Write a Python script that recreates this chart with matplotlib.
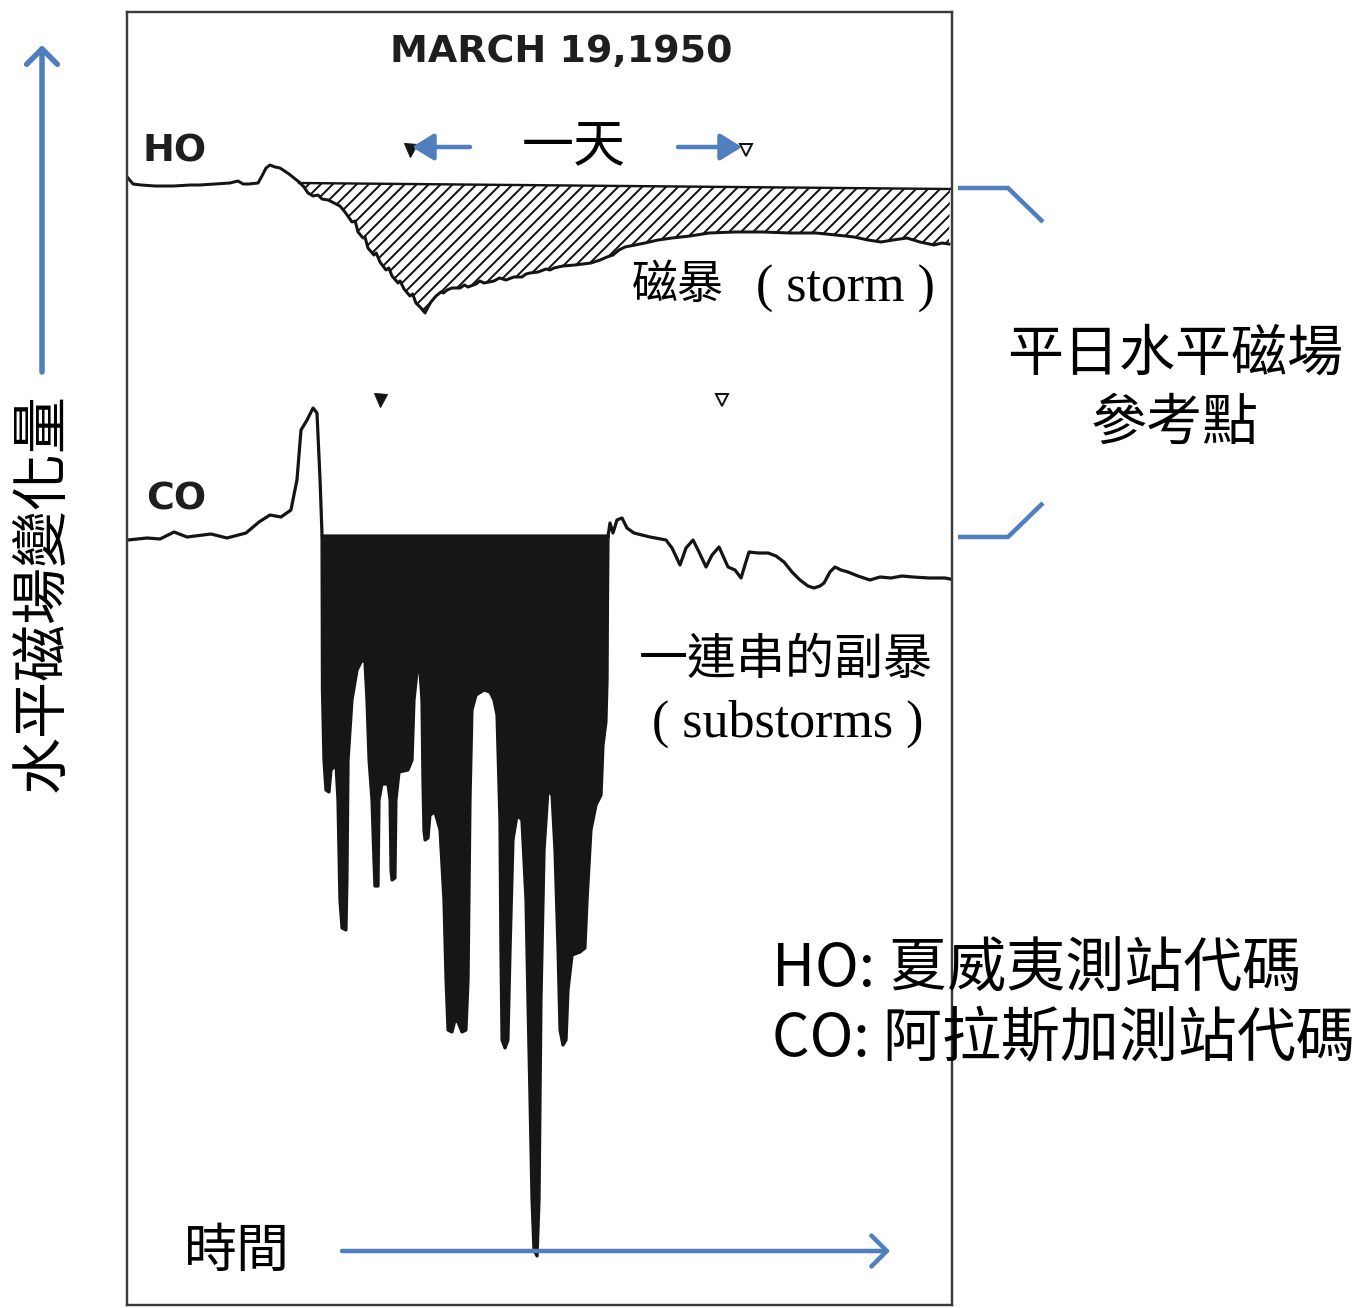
import numpy as np
import matplotlib.pyplot as plt
from matplotlib.lines import Line2D
from matplotlib.patches import FancyArrowPatch
from matplotlib.collections import LineCollection

# magnetogram traces, March 19 1950 (time in hours, deviation in gamma-like units)
ho_t = [0.07, 0.43, 1.0, 2.0, 3.36, 4.5, 5.21, 6.29, 7.36, 7.93, 8.29, 8.71, 9.36, 9.64, 9.93,
        10.21, 10.57, 10.93, 11.57, 12.29, 12.64, 12.93, 13.29, 13.64, 13.93, 14.36, 14.79, 15.21,
        15.57, 16.07, 16.3, 16.5, 16.86, 17.0, 17.21, 17.64, 17.8, 18.07, 18.5, 18.7, 18.93, 19.36,
        19.5, 19.79, 20.21, 20.4, 20.64, 21.0, 21.29, 21.5, 21.71, 22.07, 22.43, 22.6, 22.86,
        23.21, 23.79, 24.1, 24.36, 24.93, 25.2, 25.5, 26.21, 26.6, 27.07, 27.64, 28.21, 28.5,
        28.79, 29.36, 29.93, 30.2, 30.5, 31.14, 32.0, 32.57, 33.14, 33.79, 34.29, 34.71, 35.14,
        35.57, 36.29, 37.0, 37.93, 38.93, 40.21, 41.57, 43.43, 45.43, 47.36, 49.21, 50.64, 51.93,
        52.93, 53.86, 54.71, 55.71, 56.64, 57.64, 58.21, 58.71]
ho_dev = [6, 0, -1, -2, -2, -1, -1, 0, 1, 3, 0, 0, 1, 8, 16, 19, 17, 16, 10, 2, -3, -9, -12, -11,
          -15, -16, -19, -22, -28, -38, -37, -48, -54, -53, -64, -71, -69, -78, -86, -84, -92,
          -99, -97, -105, -112, -110, -119, -124, -129, -123, -118, -112, -108, -109, -106, -104,
          -104, -101, -103, -100, -97, -99, -97, -94, -96, -93, -93, -90, -89, -88, -85, -86, -84,
          -82, -81, -80, -79, -76, -73, -71, -66, -63, -61, -59, -56, -54, -52, -49, -48, -48,
          -49, -49, -51, -53, -56, -58, -56, -54, -58, -61, -59, -60]

# quiet-day reference level for HO
ho_ref_t = [12.29, 58.79]
ho_ref_dev = [1, -5]

# CO before and after the substorm interval
co_pre_t = [0.07, 1.43, 2.36, 3.36, 4.29, 6.0, 7.14, 8.5, 9.43, 10.21, 11.0, 11.71, 12.14, 12.43,
            12.86, 13.29, 13.57, 13.79, 13.93]
co_pre_dev = [-4, -2, -3, 4, -1, 2, -2, 3, 14, 21, 19, 26, 56, 106, 116, 128, 123, 56, 1]
co_post_t = [34.36, 34.5, 34.71, 35.0, 35.36, 35.71, 36.21, 37.36, 38.5, 38.93, 39.5, 39.93, 40.43,
             40.86, 41.36, 41.79, 42.29, 42.64, 42.93, 43.43, 43.86, 44.14, 44.43, 45.07, 45.79,
             46.36, 46.93, 47.5, 48.07, 48.64, 49.07, 49.5, 49.79, 50.21, 50.57, 51.0, 51.5, 52.21,
             53.07, 53.79, 54.57, 55.36, 56.14, 57.29, 58.43, 58.79]
co_post_dev = [0, 13, 3, 16, 18, 8, 3, -1, -4, -12, -29, -12, -4, -16, -31, -19, -11, -22, -31,
               -34, -42, -29, -16, -17, -17, -20, -26, -36, -44, -50, -52, -50, -47, -36, -31, -34,
               -36, -40, -44, -41, -42, -40, -41, -42, -42, -43]

# CO substorm excursions (trace driven off the paper, filled black)
sub_t = [13.93, 13.96, 14.07, 14.21, 14.43, 14.57, 14.93, 15.07, 15.21, 15.36, 15.64, 15.71, 15.79,
         16.07, 16.43, 16.79, 17.0, 17.14, 17.29, 17.5, 17.64, 17.71, 17.93, 18.0, 18.21, 18.64,
         18.79, 18.86, 18.93, 19.14, 19.21, 19.43, 20.07, 20.36, 20.5, 20.71, 20.93, 21.07, 21.14,
         21.21, 21.29, 21.5, 21.64, 22.0, 22.36, 22.64, 22.79, 22.93, 23.21, 23.43, 23.64, 23.93,
         24.21, 24.36, 24.5, 24.64, 24.93, 25.5, 25.93, 26.21, 26.43, 26.64, 26.71, 26.79, 27.0,
         27.21, 27.36, 27.57, 27.86, 28.21, 28.5, 28.64, 28.79, 28.93, 29.07, 29.29, 29.43, 29.57,
         29.79, 30.07, 30.36, 30.57, 30.79, 30.93, 31.14, 31.36, 31.5, 31.79, 32.36, 32.71, 32.86,
         33.14, 33.5, 33.86, 34.0, 34.21, 34.29, 34.32, 34.36]
sub_dev = [0, -154, -224, -254, -256, -234, -229, -264, -364, -392, -394, -344, -224, -164, -134,
           -124, -126, -164, -224, -264, -324, -350, -350, -264, -248, -248, -264, -334, -344, -342,
           -264, -236, -234, -224, -164, -136, -136, -164, -244, -294, -304, -302, -279, -276, -294,
           -364, -444, -494, -496, -484, -486, -496, -494, -444, -264, -174, -159, -154, -156, -164,
           -179, -284, -414, -504, -512, -504, -414, -304, -279, -284, -364, -464, -564, -664, -714,
           -720, -664, -464, -314, -254, -259, -314, -414, -494, -509, -504, -454, -419, -416, -412,
           -364, -294, -269, -259, -209, -186, -144, -64, 0]

# one-day markers (filled = start, open = 24 h later)
ho_day_t = [20.2, 44.2]
co_day_t = [18.1, 42.5]

W, H = 1365, 1308
BLUE = '#4f7fbf'
INK = '#141414'
CJK = ['Noto Sans CJK TC', 'DejaVu Sans']
SERIF = 'Liberation Serif'
PX_PER_H = 14

fig = plt.figure(figsize=(W / 72, H / 72), dpi=72)


def fpos(x, y):
    return x / W, 1 - y / H


# chart panel: 14 px per hour, 1 unit per px vertically
ax = fig.add_axes([127 / W, 3 / H, 825 / W, 1293 / H])
ax.set_xlim(0, 825 / PX_PER_H)
ax.set_ylim(-1305, -12)
ax.set_xticks([])
ax.set_yticks([])
for s in ax.spines.values():
    s.set_color('#3a3a3a')
    s.set_linewidth(2.4)

ho_level = -184
co_level = -536

# HO storm: area between reference level and trace, diagonal hatching
ho_t = np.array(ho_t)
ho_y = ho_level + np.array(ho_dev)
ref_y = ho_level + np.array(ho_ref_dev)
storm = ho_t >= ho_ref_t[0]
poly_x = np.r_[ho_ref_t, ho_t[storm][::-1]]
poly_y = np.r_[ref_y, ho_y[storm][::-1]]
area = ax.fill(poly_x, poly_y, facecolor='white', linewidth=0)[0]
starts = np.arange(-5, 60, 12 / PX_PER_H)
segs = [[(s, -400), (s + 400 / PX_PER_H, 0)] for s in starts]
hatch = LineCollection(segs, colors=INK, linewidths=2.0)
ax.add_collection(hatch)
hatch.set_clip_path(area)
ax.plot(ho_ref_t, ref_y, color=INK, lw=2.4)
ax.plot(ho_t, ho_y, color=INK, lw=3.0, solid_joinstyle='round')

# CO trace and substorm block
ax.fill(sub_t, co_level + np.array(sub_dev), facecolor='#161616', edgecolor='#161616', lw=3.2,
        joinstyle='round')
ax.plot([sub_t[0], sub_t[-1]], [co_level, co_level], color=INK, lw=2.6)
ax.plot(co_pre_t, co_level + np.array(co_pre_dev), color=INK, lw=3.2, solid_joinstyle='round')
ax.plot(co_post_t, co_level + np.array(co_post_dev), color=INK, lw=3.2, solid_joinstyle='round')

ho_mark = ho_level + 34
co_mark = co_level + 136
ax.plot(ho_day_t[0], ho_mark, marker='v', ms=13, color=INK)
ax.plot(ho_day_t[1], ho_mark, marker='v', ms=12, mfc='white', mec=INK, mew=2)
ax.plot(co_day_t[0], co_mark, marker='v', ms=13, color=INK)
ax.plot(co_day_t[1], co_mark, marker='v', ms=12, mfc='white', mec=INK, mew=2)

# texts on the record
fig.text(*fpos(561, 52), 'MARCH 19,1950', fontsize=38, fontweight='bold', ha='center',
         va='center', color='#1e1e1e', family='DejaVu Sans')
fig.text(*fpos(143, 151), 'HO', fontsize=38, fontweight='bold', ha='left', va='center',
         color='#1e1e1e')
fig.text(*fpos(146, 499), 'CO', fontsize=38, fontweight='bold', ha='left', va='center',
         color='#1e1e1e')
fig.text(*fpos(574, 147), '一天', fontsize=52, ha='center', va='center', family=CJK)
fig.text(*fpos(632, 285), '磁暴', fontsize=46, ha='left', va='center', family=CJK)
fig.text(*fpos(756, 302), '( storm )', fontsize=52, ha='left', va='baseline', family=SERIF)
fig.text(*fpos(786, 660), '一連串的副暴', fontsize=49, ha='center', va='center', family=CJK)
fig.text(*fpos(652, 737), '( substorms )', fontsize=52, ha='left', va='baseline', family=SERIF)

# annotations around the panel
fig.text(*fpos(1175, 355), '平日水平磁場', fontsize=56, ha='center', va='center', family=CJK)
fig.text(*fpos(1175, 424), '參考點', fontsize=56, ha='center', va='center', family=CJK)
fig.text(*fpos(772, 970), 'HO: 夏威夷測站代碼', fontsize=59, ha='left', va='center', family=CJK)
fig.text(*fpos(772, 1040), 'CO: 阿拉斯加測站代碼', fontsize=59, ha='left', va='center', family=CJK)
fig.text(*fpos(237, 1251), '時間', fontsize=53, ha='center', va='center', family=CJK)
fig.text(*fpos(42, 592), '水平磁場變化量', fontsize=57, ha='center', va='center',
         rotation=90, family=CJK)

for tail, head, style, lw in [((470, 147), (412, 147), '-|>,head_length=0.65,head_width=0.4', 4.5),
                              ((678, 147), (742, 147), '-|>,head_length=0.65,head_width=0.4', 4.5),
                              ((42, 372), (42, 45), '->,head_length=0.55,head_width=0.55', 5.5),
                              ((342, 1251), (890, 1251), '->,head_length=0.55,head_width=0.55', 4.5)]:
    fig.add_artist(FancyArrowPatch(fpos(*tail), fpos(*head), transform=fig.transFigure,
                                   arrowstyle=style, mutation_scale=28, lw=lw, color=BLUE,
                                   shrinkA=0, shrinkB=0))

for xs, ys in [([958, 1008, 1043], [188, 188, 222]), ([958, 1008, 1043], [537, 537, 503])]:
    fig.add_artist(Line2D([x / W for x in xs], [1 - y / H for y in ys],
                          transform=fig.transFigure, color=BLUE, lw=4.5, solid_capstyle='butt'))

fig.savefig('out.png', dpi=72)
